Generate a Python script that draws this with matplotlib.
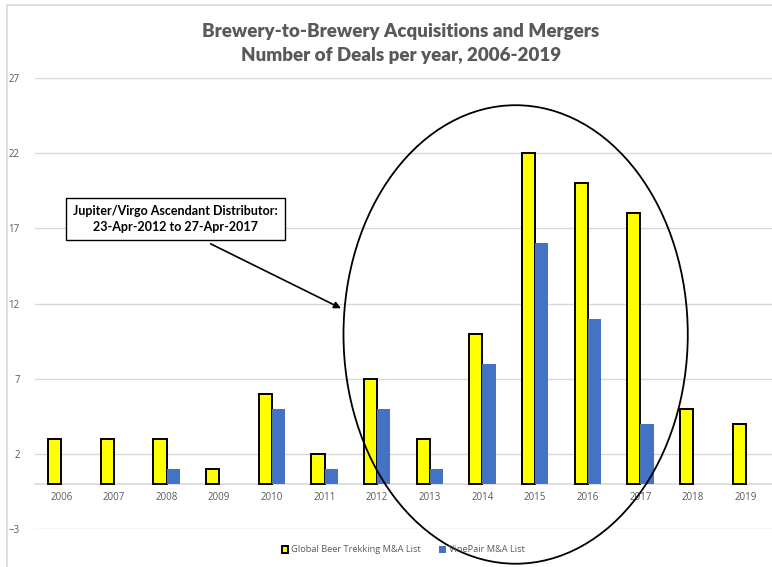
import numpy as np
import matplotlib.pyplot as plt
from matplotlib.patches import Ellipse, Rectangle

years = ["2006", "2007", "2008", "2009", "2010", "2011", "2012",
         "2013", "2014", "2015", "2016", "2017", "2018", "2019"]
trekking = [3, 3, 3, 1, 6, 2, 7, 3, 10, 22, 20, 18, 5, 4]
vinepair = [0, 0, 1, 0, 5, 1, 5, 1, 8, 16, 11, 4, 0, 0]

plt.rcParams['font.family'] = ['Open Sans', 'DejaVu Sans']

fig = plt.figure(figsize=(7.72, 5.67), dpi=100)
ax = fig.add_axes([35 / 772, 1 - 529 / 567, 737 / 772, 451 / 567])

x = np.arange(len(years))
w = 0.25
ax.bar(x - w / 2, trekking, w, color="#FFFF00", edgecolor="black",
       linewidth=1.4, label="Global Beer Trekking M&A List", zorder=3)
ax.bar(x + w / 2, vinepair, w, color="#4472C4",
       label="VinePair M&A List", zorder=3)

ax.set_xlim(-0.5, len(years) - 0.5)
ax.set_ylim(-3, 27)
ax.set_yticks(range(-3, 28, 5))
ax.grid(axis="y", color="#d9d9d9", linewidth=1, zorder=0)
ax.set_axisbelow(True)
for side in ["left", "right", "top"]:
    ax.spines[side].set_visible(False)
ax.spines["bottom"].set_position(("data", 0))
ax.spines["bottom"].set_color("#d9d9d9")
ax.spines["bottom"].set_linewidth(1.2)
ax.set_xticks(x)
ax.set_xticklabels(years)
ax.tick_params(axis="both", length=0, labelsize=7, labelcolor="#595959")
ax.tick_params(axis="y", pad=11)
ax.tick_params(axis="x", pad=6)

title_font = dict(ha="center", va="center", fontsize=13.5, fontweight="heavy",
                  color="#595959", family=["Lato", "DejaVu Sans"])
fig.text(0.519, 1 - 32 / 567, "Brewery-to-Brewery Acquisitions and Mergers",
         **title_font)
fig.text(0.519, 1 - 56 / 567, "Number of Deals per year, 2006-2019",
         **title_font)

# callout box with arrow pointing at the circled years
ax.text(2.17, 17.6, "Jupiter/Virgo Ascendant Distributor:\n23-Apr-2012 to 27-Apr-2017",
        ha="center", va="center", fontsize=9, fontweight="bold",
        family=["Lato", "DejaVu Sans"], linespacing=1.4,
        bbox=dict(boxstyle="square,pad=0.55", facecolor="white",
                  edgecolor="black", linewidth=1), zorder=5)
ax.annotate("", xy=(5.36, 11.6), xytext=(2.79, 16.05),
            arrowprops=dict(arrowstyle="-|>", color="black", lw=1.2,
                            mutation_scale=10), zorder=5)

ax.add_patch(Ellipse((8.63, 9.94), 6.54, 30.5, fill=False,
                     edgecolor="black", linewidth=1.3, clip_on=False, zorder=4))

leg = fig.legend(loc="center", bbox_to_anchor=(0.522, 1 - 550 / 567), ncol=2,
                 frameon=False, fontsize=6.7, handlelength=0.7, handleheight=0.7,
                 handletextpad=0.3, columnspacing=2.0)
for t in leg.get_texts():
    t.set_color("#595959")

fig.patches.append(Rectangle((7 / 772, -0.01), 1.0, 1 - 5 / 567 + 0.01,
                             transform=fig.transFigure, fill=False,
                             edgecolor="#d9d9d9", linewidth=1.2))

fig.savefig("out.png", dpi=100)
